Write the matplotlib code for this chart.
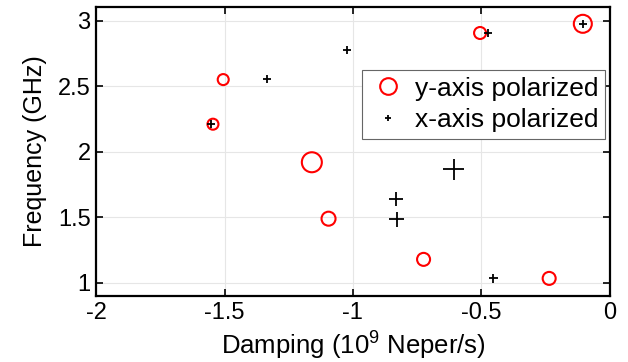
import matplotlib
matplotlib.use("Agg")
import matplotlib.pyplot as plt
from matplotlib.lines import Line2D

plt.rcParams["font.family"] = ["Liberation Sans", "DejaVu Sans"]
plt.rcParams["mathtext.fontset"] = "custom"
plt.rcParams["mathtext.rm"] = "Liberation Sans"

# y-axis polarized modes (red circles), marker diameter in px
y_damp = [-1.545, -1.505, -1.16, -1.095, -0.725, -0.236, -0.505, -0.105]
y_freq = [2.21, 2.55, 1.92, 1.49, 1.18, 1.035, 2.905, 2.975]
y_amp = [11, 11, 20, 14, 13, 13, 12, 18]

# x-axis polarized modes (black plus)
x_damp = [-1.552, -1.336, -1.022, -0.473, -0.105, -0.607, -0.834, -0.830, -0.454]
x_freq = [2.21, 2.556, 2.772, 2.905, 2.975, 1.868, 1.64, 1.487, 1.035]
x_amp = [8, 8, 8, 8, 8, 21, 14, 15, 9]

px = 0.72  # points per pixel at dpi 100

fig = plt.figure(figsize=(6.28, 3.62), dpi=100)
ax = fig.add_axes([0.153, 0.182, 0.818, 0.799])

ax.scatter(y_damp, y_freq, s=[(d * px) ** 2 for d in y_amp], marker="o",
           facecolors="none", edgecolors="red", linewidths=1.5, zorder=3)
ax.scatter(x_damp, x_freq, s=[(d * px) ** 2 for d in x_amp], marker="+",
           color="black", linewidths=1.3, zorder=4)

ax.set_xlim(-2, 0)
ax.set_ylim(0.9, 3.104)
ax.set_xticks([-2, -1.5, -1, -0.5, 0])
ax.set_xticklabels(["-2", "-1.5", "-1", "-0.5", "0"])
ax.set_yticks([1, 1.5, 2, 2.5, 3])
ax.set_yticklabels(["1", "1.5", "2", "2.5", "3"])
ax.grid(True, color="#e6e6e6", linewidth=0.8)
ax.set_axisbelow(True)
ax.tick_params(direction="in", length=5, width=1.2, labelsize=17, pad=4,
               top=True, right=True)
for sp in ax.spines.values():
    sp.set_linewidth(1.6)

ax.set_xlabel("Damping (10$^9$ Neper/s)", fontsize=18.5, labelpad=3)
ax.set_ylabel("Frequency (GHz)", fontsize=18, labelpad=8)

handles = [
    Line2D([], [], marker="o", linestyle="none", markerfacecolor="none",
           markeredgecolor="red", markersize=12, markeredgewidth=1.5),
    Line2D([], [], marker="+", linestyle="none", color="black",
           markersize=5, markeredgewidth=1.3),
]
leg = ax.legend(handles, ["y-axis polarized", "x-axis polarized"],
                loc="upper left", bbox_to_anchor=(0.5175, 0.782),
                fontsize=19, fancybox=False, framealpha=1,
                edgecolor="#666666", handletextpad=0.25, borderpad=0.25,
                labelspacing=0.3, handlelength=1.5, borderaxespad=0)
leg.get_frame().set_linewidth(0.8)

fig.savefig("out.png", dpi=100)
